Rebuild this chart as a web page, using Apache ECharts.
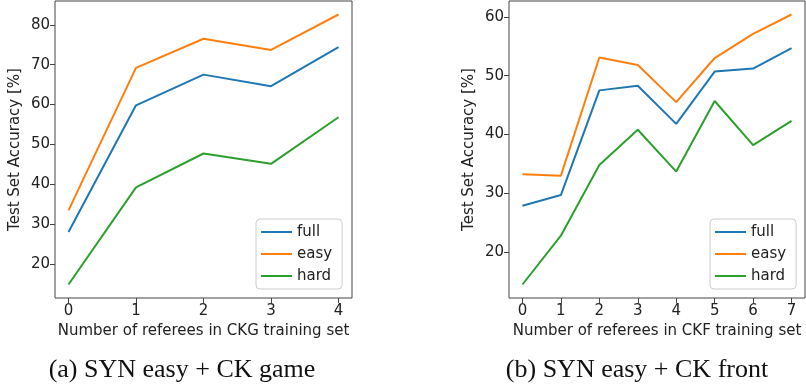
<!DOCTYPE html>
<html>
<head>
<meta charset="utf-8">
<script src="https://cdn.jsdelivr.net/npm/echarts@6/dist/echarts.min.js"></script>
<style>
  html, body { margin: 0; padding: 0; background: #fff; }
  #chart { width: 806px; height: 387px; }
</style>
</head>
<body>
<div id="chart"></div>
<script>
// Panel (a): referees from the CKG set
const gameX = [0, 1, 2, 3, 4];
const gameFull = [28.0, 59.8, 67.5, 64.6, 74.4];
const gameEasy = [33.4, 69.2, 76.5, 73.7, 82.6];
const gameHard = [14.8, 39.2, 47.7, 45.1, 56.8];
const gameYTicks = [20, 30, 40, 50, 60, 70, 80];

// Panel (b): referees from the CKF set
const frontX = [0, 1, 2, 3, 4, 5, 6, 7];
const frontFull = [27.9, 29.7, 47.5, 48.3, 41.8, 50.7, 51.2, 54.7];
const frontEasy = [33.25, 33.0, 53.1, 51.8, 45.5, 53.0, 57.1, 60.4];
const frontHard = [14.5, 22.8, 34.8, 40.8, 33.7, 45.7, 38.2, 42.3];
const frontYTicks = [20, 30, 40, 50, 60];

const seriesNames = ['full', 'easy', 'hard'];
const colors = ['#1f77b4', '#ff7f0e', '#2ca02c'];

const tickFont = { fontFamily: 'DejaVu Sans', fontSize: 15, color: '#222' };
const axisLineColor = '#444';

// pad the data range by 5% on each side
function padded(values) {
  const lo = Math.min(...values), hi = Math.max(...values);
  const m = (hi - lo) * 0.05;
  return [lo - m, hi + m];
}

function xAxisFor(xs, gridIndex, label) {
  const [lo, hi] = padded(xs);
  return {
    type: 'value', gridIndex, min: lo, max: hi,
    name: label, nameLocation: 'middle', nameGap: 25,
    nameTextStyle: { fontFamily: 'DejaVu Sans', fontSize: 15, color: '#222' },
    axisLine: { show: false, onZero: false },
    splitLine: { show: false },
    axisTick: { show: true, inside: false, length: 5, customValues: xs,
      lineStyle: { color: axisLineColor, width: 1 } },
    axisLabel: Object.assign({ margin: 6, customValues: xs }, tickFont)
  };
}

function yAxisFor(values, ticks, gridIndex) {
  const [lo, hi] = padded(values);
  return {
    type: 'value', gridIndex, min: lo, max: hi,
    name: 'Test Set Accuracy [%]', nameLocation: 'middle', nameGap: 32,
    nameTextStyle: { fontFamily: 'DejaVu Sans', fontSize: 15, color: '#222' },
    axisLine: { show: false, onZero: false },
    splitLine: { show: false },
    axisTick: { show: true, inside: false, length: 5, customValues: ticks,
      lineStyle: { color: axisLineColor, width: 1 } },
    axisLabel: Object.assign({ margin: 5, customValues: ticks }, tickFont)
  };
}

function lines(xs, groups, idx) {
  return groups.map((vals, i) => ({
    type: 'line', name: seriesNames[i], xAxisIndex: idx, yAxisIndex: idx,
    data: xs.map((x, k) => [x, vals[k]]),
    showSymbol: false, symbol: 'none', animation: false,
    lineStyle: { color: colors[i], width: 2 },
    itemStyle: { color: colors[i] }
  }));
}

function legendAt(left, top) {
  return {
    left, top, orient: 'vertical',
    data: seriesNames,
    icon: 'rect', itemWidth: 31, itemHeight: 2, itemGap: 6, itemTextGap: 11,
    padding: [5, 10, 5, 5],
    backgroundColor: '#fff', borderColor: '#ccc', borderWidth: 1, borderRadius: 4,
    textStyle: { fontFamily: 'DejaVu Sans', fontSize: 15, color: '#222', lineHeight: 16 },
    selectedMode: false
  };
}

const chart = echarts.init(document.getElementById('chart'), null, { renderer: 'canvas' });

const gameAll = gameFull.concat(gameEasy, gameHard);
const frontAll = frontFull.concat(frontEasy, frontHard);

chart.setOption({
  animation: false,
  color: colors,
  grid: [
    { left: 55, top: 1, width: 297, height: 297, show: true, borderColor: axisLineColor, borderWidth: 1, backgroundColor: 'transparent' },
    { left: 509, top: 1, width: 296, height: 297, show: true, borderColor: axisLineColor, borderWidth: 1, backgroundColor: 'transparent' }
  ],
  xAxis: [
    xAxisFor(gameX, 0, 'Number of referees in CKG training set'),
    xAxisFor(frontX, 1, 'Number of referees in CKF training set')
  ],
  yAxis: [
    yAxisFor(gameAll, gameYTicks, 0),
    yAxisFor(frontAll, frontYTicks, 1)
  ],
  legend: [legendAt(256, 219), legendAt(710, 219)],
  series: lines(gameX, [gameFull, gameEasy, gameHard], 0)
    .concat(lines(frontX, [frontFull, frontEasy, frontHard], 1)),
  graphic: [
    { type: 'text', x: 182, y: 370, style: { text: '(a) SYN easy + CK game', font: '26px "Liberation Serif"', fill: '#111', align: 'center', verticalAlign: 'middle' } },
    { type: 'text', x: 637, y: 370, style: { text: '(b) SYN easy + CK front', font: '26px "Liberation Serif"', fill: '#111', align: 'center', verticalAlign: 'middle' } }
  ]
});
</script>
</body>
</html>
